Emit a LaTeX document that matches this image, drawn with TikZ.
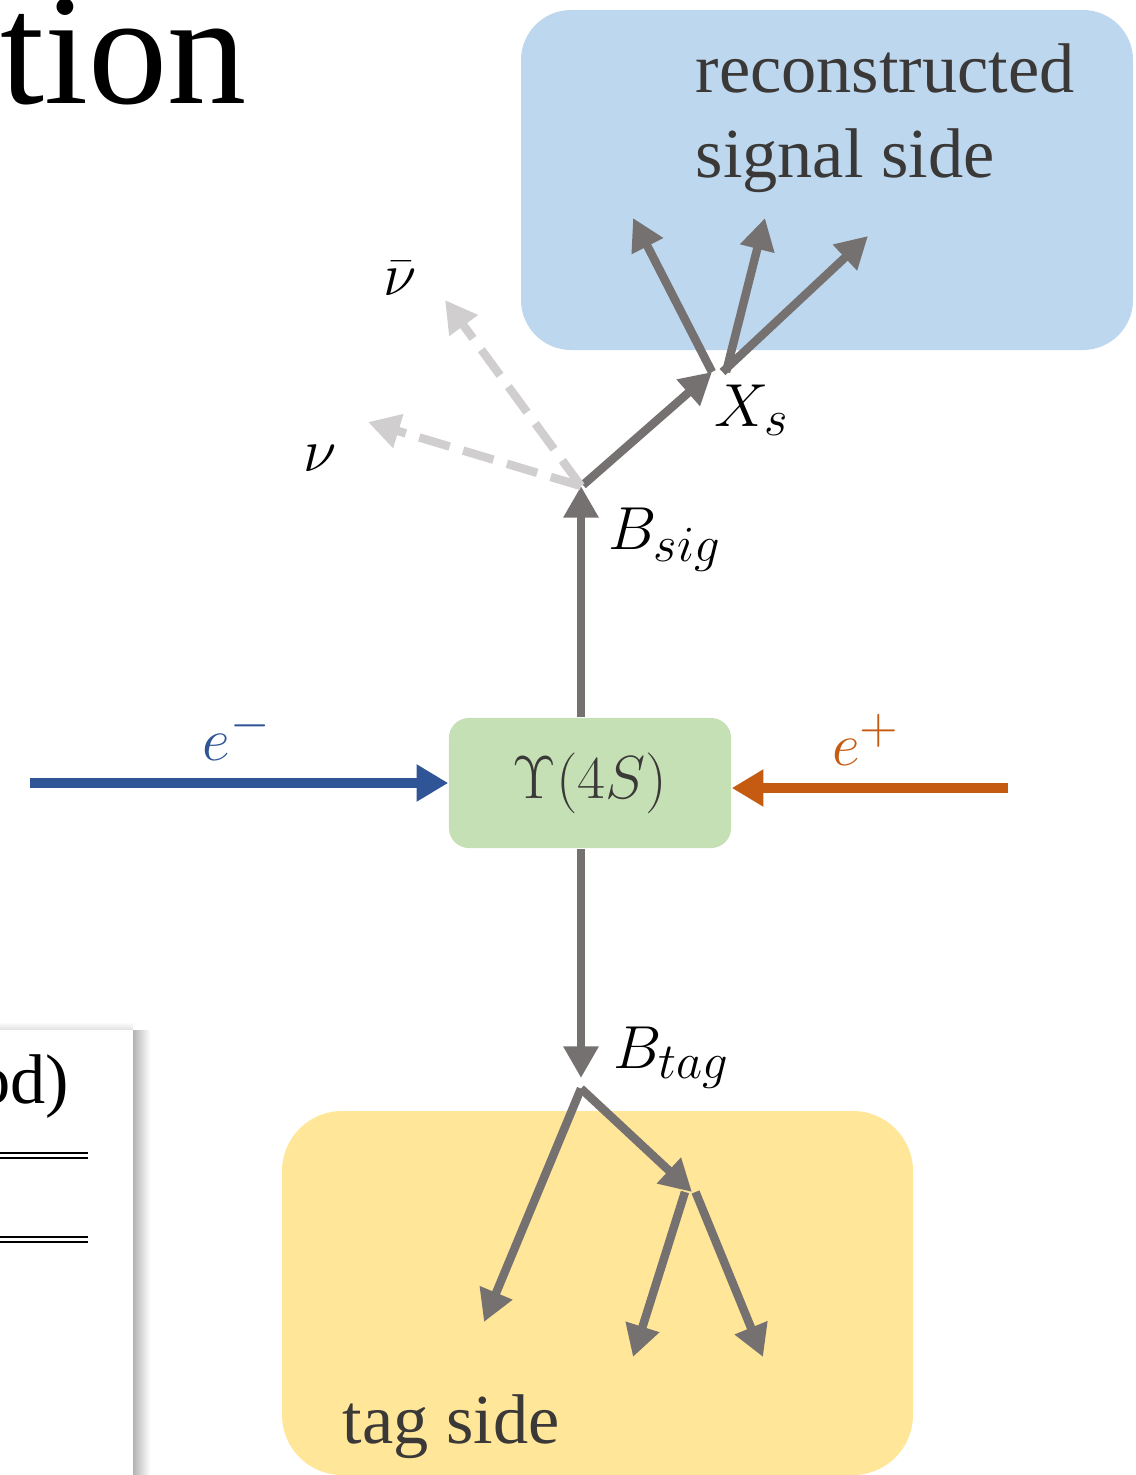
\documentclass[tikz,border=0pt]{standalone}
\usepackage{amsmath, amssymb}
\usepackage{fontspec}
\setmainfont{Liberation Serif}
\usetikzlibrary{arrows.meta, positioning}
\definecolor{trkgray}{HTML}{767171}
\definecolor{nugray}{HTML}{D0CECE}
\definecolor{sigblue}{HTML}{BDD7EE}
\definecolor{tagyellow}{HTML}{FFE699}
\definecolor{upsgreen}{HTML}{C5E0B4}
\definecolor{beamblue}{HTML}{2F5597}
\definecolor{beamorange}{HTML}{C55A11}
\definecolor{textgray}{HTML}{3B3838}

\begin{document}
\begin{tikzpicture}[x=0.01cm, y=-0.01cm,
    trk/.style={draw=trkgray, line width=2.4pt, -{Triangle[length=9pt, width=9.5pt]}},
    nutrk/.style={draw=nugray, line width=2.4pt, dash pattern=on 9pt off 4pt, -{Triangle[length=9pt, width=9.5pt]}},
    beam/.style={line width=2.6pt, -{Triangle[length=9pt, width=10pt]}},
    lbl/.style={font=\fontsize{19}{23}\selectfont},
    side/.style={font=\fontsize{20}{24}\selectfont, text=textgray, align=left, inner sep=0pt}]
  \useasboundingbox (0,0) rectangle (1135,1475);
  \clip (0,0) rectangle (1135,1475);

  % slide leftovers
  \node[anchor=base west, inner sep=0pt, font=\fontsize{45}{50}\selectfont] (title) at (0,103) {tion};
  \shade[left color=black!30, right color=white] (133,1030) rectangle (150,1600);
  \shade[top color=white, bottom color=black!12] (-10,1022) rectangle (133,1030);
  \fill[white] (-60,1030) rectangle (133,1600);
  \node[anchor=base east, inner sep=0pt, font=\fontsize{20}{24}\selectfont] (tab) at (70,1103) {od)};
  \draw[line width=0.6pt] (0,1153) -- (88,1153) (0,1158) -- (88,1158);
  \draw[line width=0.6pt] (0,1237) -- (88,1237) (0,1242) -- (88,1242);

  % signal and tag boxes
  \fill[sigblue, rounded corners=0.5cm] (521,10) rectangle (1133,350);
  \fill[tagyellow, rounded corners=0.6cm] (282,1111) rectangle (913,1475);
  \node[side, anchor=base west] (sigtxt) at (695,177) {reconstructed\\signal side};
  \node[side, anchor=base west] (tagtxt) at (342,1443) {tag side};

  % Upsilon(4S) and beams
  \node[fill=upsgreen, rounded corners=0.2cm, minimum width=2.82cm, minimum height=1.3cm,
        text=textgray, font=\fontsize{18}{22}\selectfont] (ups) at (590,783) {$\Upsilon(4S)$};
  \coordinate (em) at (30,783);
  \coordinate (ep) at (1008,788);
  \draw[beam, draw=beamblue] (em) -- (ups.west);
  \draw[beam, draw=beamorange] (ep) -- (ups.east |- ep);
  \node[lbl, text=beamblue] (emlbl) at (237,735) {$e^-$};
  \node[lbl, text=beamorange] (eplbl) at (866,740) {$e^+$};

  % signal side
  \coordinate (sig) at (581,486);
  \coordinate (xs) at (712,372);
  \draw[trk] (ups.north -| sig) -- (sig);
  \node[lbl] (bsiglbl) at (665,540) {$B_{sig}$};
  \draw[trk] ([shift={(2,-1)}]sig) -- (xs);
  \node[lbl] (xslbl) at (752,410) {$X_s$};
  \draw[nutrk] (sig) -- (445,300);
  \draw[nutrk] (sig) -- (368,422);
  \node[lbl] (nubar) at (400,278) {$\bar{\nu}$};
  \node[lbl] (nu) at (320,458) {$\nu$};
  \draw[trk] (xs) -- (633,218);
  \draw[trk] ([xshift=4pt]xs) -- (765,218);
  \draw[trk] ([xshift=3pt]xs) -- (868,236);

  % tag side
  \coordinate (tag) at (581,1078);
  \coordinate (tagmid) at (692,1192);
  \draw[trk] (ups.south -| tag) -- (tag);
  \node[lbl] (btaglbl) at (672,1058) {$B_{tag}$};
  \draw[trk] ([yshift=-3pt]tag) -- (484,1322);
  \draw[trk] ([yshift=-3pt]tag) -- (tagmid);
  \draw[trk] ([xshift=-2pt]tagmid) -- (633,1357);
  \draw[trk] ([xshift=1pt]tagmid) -- (763,1357);
\end{tikzpicture}
\end{document}
